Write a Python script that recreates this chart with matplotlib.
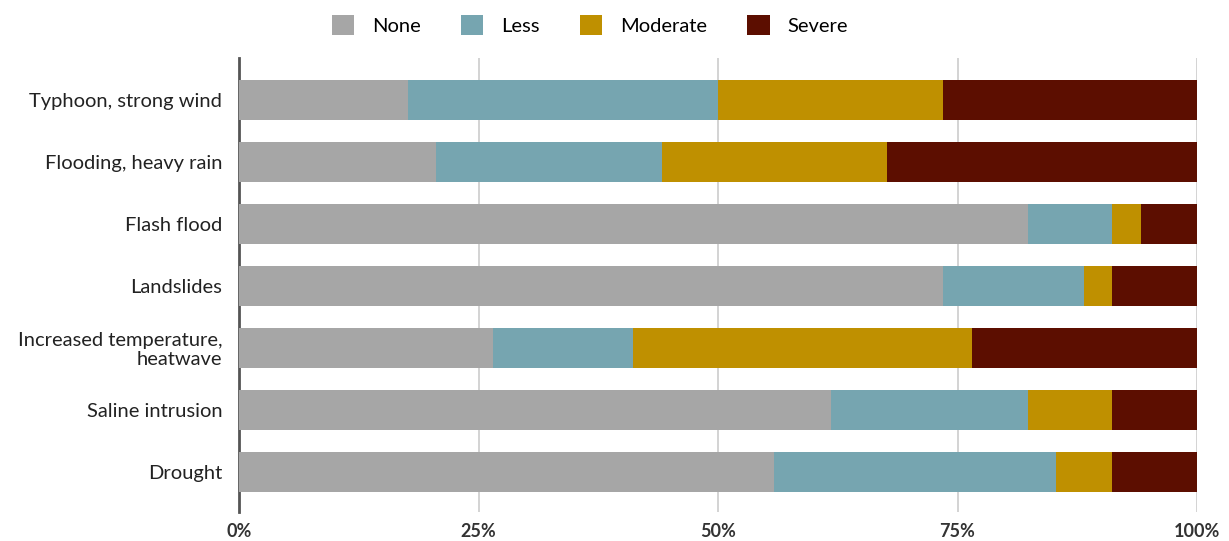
import numpy as np
import matplotlib.pyplot as plt
from matplotlib.ticker import PercentFormatter

plt.rcParams['font.family'] = ['Lato', 'DejaVu Sans']

# respostas (contagens de 34 entrevistados)
hazards = ['Typhoon, strong wind', 'Flooding, heavy rain', 'Flash flood', 'Landslides',
           'Increased temperature,\nheatwave', 'Saline intrusion', 'Drought']
levels = ['None', 'Less', 'Moderate', 'Severe']
none_n = [6, 7, 28, 25, 9, 21, 19]
less_n = [11, 8, 3, 5, 5, 7, 10]
moderate_n = [8, 8, 1, 1, 12, 3, 2]
severe_n = [9, 11, 2, 3, 8, 3, 3]
colors = ['#a6a6a6', '#76a5b0', '#bf9000', '#5c0e00']

counts = np.array([none_n, less_n, moderate_n, severe_n], dtype=float)
shares = counts / counts.sum(axis=0) * 100

fig = plt.figure(figsize=(12.29, 5.41), dpi=100)
ax = fig.add_axes([239 / 1229, 1 - 512 / 541, (1197 - 239) / 1229, (512 - 58) / 541])

y = np.arange(len(hazards))
left = np.zeros(len(hazards))
for i, lev in enumerate(levels):
    ax.barh(y, shares[i], left=left, height=0.645, color=colors[i], label=lev,
            edgecolor='none', zorder=3)
    left += shares[i]

ax.set_ylim(6.65, -0.68)
ax.set_xlim(0, 100)
ax.set_yticks(y)
ax.set_yticklabels(hazards, fontsize=14.5, color='#222222', linespacing=1.1)
ax.set_xticks([0, 25, 50, 75, 100])
ax.xaxis.set_major_formatter(PercentFormatter(decimals=0))
for lab in ax.get_xticklabels():
    lab.set_fontweight('bold')
    lab.set_fontsize(13)
    lab.set_color('#333333')
ax.tick_params(axis='both', length=0)
ax.tick_params(axis='x', pad=8)
ax.tick_params(axis='y', pad=12)

ax.grid(axis='x', color='#cccccc', linewidth=1.2, zorder=0)
for s in ['top', 'right', 'bottom']:
    ax.spines[s].set_visible(False)
ax.spines['left'].set_color('#555555')
ax.spines['left'].set_linewidth(2)
ax.spines['left'].set_zorder(2)

fig.legend(loc='upper center', bbox_to_anchor=(0.48, 1.005), ncol=4, frameon=False,
           fontsize=14.5, handlelength=1.1, handleheight=1.1, columnspacing=2.0,
           handletextpad=0.9)

fig.savefig('out.png', dpi=100)
